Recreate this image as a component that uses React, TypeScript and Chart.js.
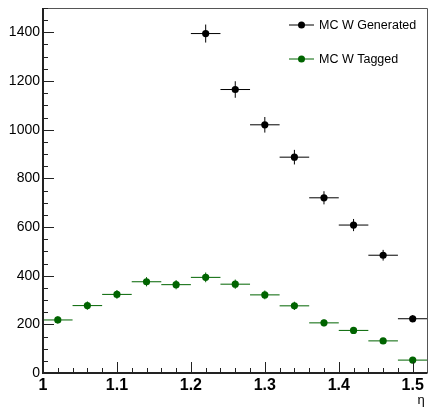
import React, { useEffect, useRef } from "react";
import { Chart, registerables } from "chart.js";

Chart.register(...registerables);

const binCenters = [1.02, 1.06, 1.10, 1.14, 1.18, 1.22, 1.26, 1.30, 1.34, 1.38, 1.42, 1.46, 1.50];
const binHalfWidth = 0.02;
const generated: (number | null)[] = [null, null, null, null, null, 1395, 1165, 1020, 887, 720, 608, 484, 223];
const generatedErr: (number | null)[] = [null, null, null, null, null, 37, 34, 32, 30, 27, 25, 22, 15];
const tagged = [218, 277, 323, 375, 363, 393, 365, 321, 276, 206, 175, 132, 53];
const taggedErr = [15, 17, 18, 19, 19, 20, 19, 18, 17, 14, 13, 11, 7];
const seriesLabels = ["MC W Generated", "MC W Tagged"];
const seriesColors = ["#000000", "#006400"];
const xAxisTitle = "η";

const LEFT = 43;
const BOTTOM_H = 36;

const errorBarsPlugin = {
  id: "errorBars",
  beforeDatasetsDraw(chart: any) {
    const { ctx, scales } = chart;
    const xs = scales.x;
    const ys = scales.y;
    const sets = [
      { vals: generated, errs: generatedErr, color: seriesColors[0] },
      { vals: tagged, errs: taggedErr, color: seriesColors[1] },
    ];
    ctx.save();
    ctx.lineWidth = 1;
    for (const s of sets) {
      ctx.strokeStyle = s.color;
      binCenters.forEach((c, i) => {
        const v = s.vals[i];
        const e = s.errs[i];
        if (v == null || e == null) return;
        const y = ys.getPixelForValue(v);
        const x = xs.getPixelForValue(c);
        const x1 = xs.getPixelForValue(Math.max(c - binHalfWidth, xs.min));
        const x2 = xs.getPixelForValue(Math.min(c + binHalfWidth, xs.max));
        ctx.beginPath();
        ctx.moveTo(x1, y);
        ctx.lineTo(x2, y);
        ctx.moveTo(x, ys.getPixelForValue(v - e));
        ctx.lineTo(x, ys.getPixelForValue(v + e));
        ctx.stroke();
      });
    }
    ctx.restore();
  },
};

const framePlugin = {
  id: "frame",
  afterDraw(chart: any) {
    const { ctx, chartArea: a, scales } = chart;
    const xs = scales.x;
    const ys = scales.y;
    ctx.save();
    ctx.strokeStyle = "#555";
    ctx.lineWidth = 1;
    ctx.beginPath();
    ctx.moveTo(a.left, a.top + 0.5);
    ctx.lineTo(a.right, a.top + 0.5);
    ctx.lineTo(a.right, a.bottom);
    ctx.stroke();
    ctx.strokeStyle = "#222";
    ctx.lineWidth = 2;
    ctx.beginPath();
    ctx.moveTo(a.left, a.top);
    ctx.lineTo(a.left, a.bottom);
    ctx.lineTo(a.right, a.bottom);
    ctx.stroke();
    ctx.lineWidth = 1;
    ctx.strokeStyle = "#222";
    ctx.beginPath();
    for (let k = 0; k <= 30; k++) {
      const v = k * 50;
      if (v > ys.max) break;
      const y = Math.round(ys.getPixelForValue(v)) + 0.5;
      const len = v % 200 === 0 ? 11 : 5;
      ctx.moveTo(a.left, y);
      ctx.lineTo(a.left + len, y);
    }
    for (let k = 0; k <= 26; k++) {
      const v = 1 + k * 0.02;
      if (v > xs.max + 1e-9) break;
      const x = Math.round(xs.getPixelForValue(v)) + 0.5;
      const len = k % 5 === 0 ? 11 : 5;
      ctx.moveTo(x, a.bottom);
      ctx.lineTo(x, a.bottom - len);
    }
    ctx.stroke();

    const legendX = 289;
    const legendYs = [25, 59];
    ctx.font = "12.5px 'Liberation Sans', Arial, sans-serif";
    ctx.textBaseline = "middle";
    ctx.textAlign = "left";
    seriesLabels.forEach((lab, i) => {
      const y = legendYs[i];
      ctx.strokeStyle = seriesColors[i];
      ctx.lineWidth = 1;
      ctx.beginPath();
      ctx.moveTo(legendX, y);
      ctx.lineTo(legendX + 25, y);
      ctx.stroke();
      ctx.fillStyle = seriesColors[i];
      ctx.beginPath();
      ctx.arc(legendX + 12.5, y, 3.5, 0, Math.PI * 2);
      ctx.fill();
      ctx.fillStyle = "#000";
      ctx.fillText(lab, legendX + 30, y + 0.5);
    });

    ctx.font = "13px 'Liberation Sans', Arial, sans-serif";
    ctx.textAlign = "center";
    ctx.textBaseline = "middle";
    ctx.fillStyle = "#000";
    ctx.fillText(xAxisTitle, 421, 400);
    ctx.restore();
  },
};

export default function App() {
  const ref = useRef<HTMLCanvasElement>(null);
  useEffect(() => {
    if (!ref.current) return;
    const chart = new Chart(ref.current, {
      type: "scatter",
      data: {
        datasets: [
          {
            label: seriesLabels[0],
            data: binCenters.map((x, i) => ({ x, y: generated[i] as any })),
            backgroundColor: seriesColors[0],
            borderColor: seriesColors[0],
            pointRadius: 3.6,
            pointBorderWidth: 0,
          },
          {
            label: seriesLabels[1],
            data: binCenters.map((x, i) => ({ x, y: tagged[i] })),
            backgroundColor: seriesColors[1],
            borderColor: seriesColors[1],
            pointRadius: 3.6,
            pointBorderWidth: 0,
          },
        ],
      },
      options: {
        responsive: false,
        animation: false,
        layout: { autoPadding: false, padding: { top: 8, right: 0.5, left: 0, bottom: 0 } },
        plugins: { legend: { display: false }, tooltip: { enabled: false } },
        scales: {
          x: {
            type: "linear",
            min: 1,
            max: 1.52,
            grid: { display: false, drawTicks: false },
            border: { display: false },
            ticks: {
              stepSize: 0.1,
              includeBounds: false,
              padding: 3,
              color: "#000",
              maxRotation: 0,
              autoSkip: false,
              font: { family: "'Liberation Sans', Arial, sans-serif", size: 16, weight: "bold" },
              callback: (v: any) => String(Math.round(Number(v) * 10) / 10),
            },
            afterFit: (s: any) => {
              s.height = BOTTOM_H;
              s.paddingLeft = 0;
              s.paddingRight = 0;
            },
          },
          y: {
            type: "linear",
            min: 0,
            max: 1500,
            grid: { display: false, drawTicks: false },
            border: { display: false },
            ticks: {
              stepSize: 200,
              includeBounds: false,
              padding: 3,
              color: "#000",
              font: { family: "'Liberation Sans', Arial, sans-serif", size: 14 },
              callback: (v: any) => String(Math.round(Number(v))),
            },
            afterFit: (s: any) => {
              s.width = LEFT;
              s.paddingTop = 0;
              s.paddingBottom = 0;
            },
          },
        },
      },
      plugins: [errorBarsPlugin, framePlugin],
    } as any);
    return () => chart.destroy();
  }, []);
  return (
    <div style={{ position: "fixed", left: 0, top: 0, width: 428, height: 409, background: "#fff" }}>
      <canvas ref={ref} width={428} height={409} style={{ display: "block" }} />
    </div>
  );
}
